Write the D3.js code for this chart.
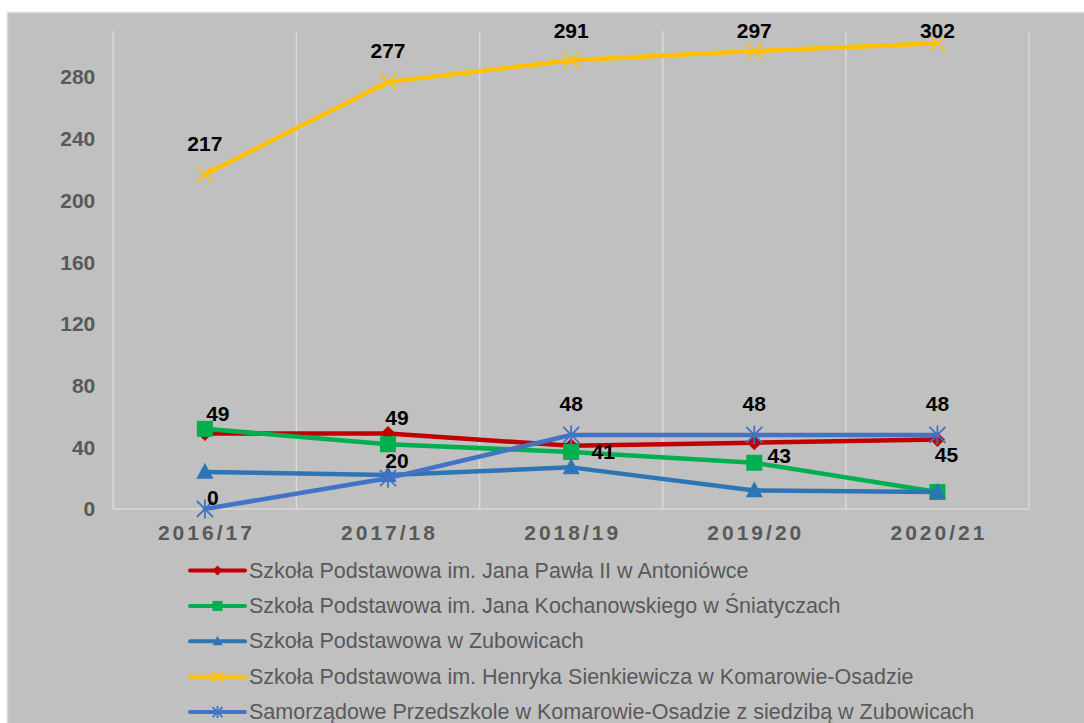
<!DOCTYPE html>
<html>
<head>
<meta charset="utf-8">
<script src="https://cdn.jsdelivr.net/npm/d3@7"></script>
<style>
  html, body { margin: 0; padding: 0; background: #ffffff; }
  svg { display: block; font-family: Arial, "Liberation Sans", sans-serif; }
</style>
</head>
<body>
<svg id="chart" width="1084" height="723"></svg>
<script>
// ---- DATA ----
const categories = ["2016/17", "2017/18", "2018/19", "2019/20", "2020/21"];
const yTicks = [0, 40, 80, 120, 160, 200, 240, 280];
const seriesNames = [
  "Szkoła Podstawowa im. Jana Pawła II w Antoniówce",
  "Szkoła Podstawowa im. Jana Kochanowskiego w Śniatyczach",
  "Szkoła Podstawowa w Zubowicach",
  "Szkoła Podstawowa im. Henryka Sienkiewicza w Komarowie-Osadzie",
  "Samorządowe Przedszkole w Komarowie-Osadzie z siedzibą w Zubowicach"
];
const antoniowka = [49, 49, 41, 43, 45];
const sniatycze = [52, 42, 37, 30, 11];
const zubowice = [24, 22, 27, 12, 11];
const komarow = [217, 277, 291, 297, 302];
const przedszkole = [0, 20, 48, 48, 48];
const labelled = [true, false, false, true, true];

// ---- STYLE / LAYOUT ----
const colors = ["#c00000", "#00b050", "#2e75b6", "#ffc000", "#4472c4"];
const markers = ["diamond", "square", "triangle", "x", "asterisk"];
const seriesValues = [antoniowka, sniatycze, zubowice, komarow, przedszkole];
// data-label offsets (dx, dy) per series per point
const labelOffsets = [
  [[13, -20], [9, -16], [32, 6], [25, 13], [9, 15]],
  null, null,
  [[0, -31], [0, -31], [0, -31], [0, -31], [0, -31]],
  [[8, -12], [9, -18], [0, -31], [0, -31], [0, -31]]
];

const svg = d3.select("#chart");
// chart area background
svg.append("rect").attr("x", 7).attr("y", 12).attr("width", 1084 - 7).attr("height", 723 - 12)
  .attr("fill", "#c0c0c0");
svg.append("line").attr("x1", 7.5).attr("x2", 7.5).attr("y1", 12).attr("y2", 723).attr("stroke", "#d9d9d9").attr("stroke-width", 1.5);
svg.append("line").attr("x1", 7).attr("x2", 1084).attr("y1", 12.5).attr("y2", 12.5).attr("stroke", "#d9d9d9").attr("stroke-width", 1.5);

const plot = { left: 113.3, right: 1029, top: 31, bottom: 509 };
const x = d3.scaleBand().domain(categories).range([plot.left, plot.right]);
const y = d3.scaleLinear().domain([0, 310]).range([plot.bottom, plot.top]);
const cx = c => x(c) + x.bandwidth() / 2;

// vertical gridlines at category boundaries
const bounds = categories.map(c => x(c)).concat([plot.right]);
svg.append("g").selectAll("line").data(bounds).join("line")
  .attr("x1", d => d).attr("x2", d => d)
  .attr("y1", plot.top).attr("y2", plot.bottom)
  .attr("stroke", "#d9d9d9").attr("stroke-width", 1.5);

// x axis line
svg.append("line").attr("x1", plot.left).attr("x2", plot.right)
  .attr("y1", plot.bottom).attr("y2", plot.bottom)
  .attr("stroke", "#d9d9d9").attr("stroke-width", 1.5);

// y axis labels
const yAxis = d3.axisLeft(y).tickValues(yTicks).tickSize(0).tickPadding(18);
const yg = svg.append("g").attr("transform", `translate(${plot.left},0)`).call(yAxis);
yg.select(".domain").remove();
yg.selectAll("text").attr("fill", "#595959").attr("font-size", 21).attr("font-weight", "bold")
  .attr("font-family", "Arial, 'Liberation Sans', sans-serif");

// x axis labels
const xAxis = d3.axisBottom(x).tickSize(0).tickPadding(16);
const xg = svg.append("g").attr("transform", `translate(0,${plot.bottom})`).call(xAxis);
xg.select(".domain").remove();
xg.selectAll("text").attr("fill", "#595959").attr("font-size", 21).attr("font-weight", "bold")
  .attr("letter-spacing", "3px").attr("dx", "1.5px")
  .attr("font-family", "Arial, 'Liberation Sans', sans-serif");

function drawMarker(g, type, px, py, color, s) {
  if (type === "diamond") {
    g.append("path").attr("d", `M${px},${py - s}L${px + s},${py}L${px},${py + s}L${px - s},${py}Z`).attr("fill", color);
  } else if (type === "square") {
    g.append("rect").attr("x", px - s).attr("y", py - s).attr("width", 2 * s).attr("height", 2 * s).attr("fill", color);
  } else if (type === "triangle") {
    g.append("path").attr("d", `M${px},${py - s * 1.1}L${px + s},${py + s * 0.8}L${px - s},${py + s * 0.8}Z`).attr("fill", color);
  } else if (type === "x") {
    g.append("path").attr("d", `M${px - s},${py - s}L${px + s},${py + s}M${px - s},${py + s}L${px + s},${py - s}`)
      .attr("stroke", color).attr("stroke-width", 1.8).attr("fill", "none");
  } else if (type === "asterisk") {
    g.append("path").attr("d", `M${px - s},${py - s}L${px + s},${py + s}M${px - s},${py + s}L${px + s},${py - s}M${px},${py - s * 1.2}L${px},${py + s * 1.2}`)
      .attr("stroke", color).attr("stroke-width", 1.8).attr("fill", "none");
  }
}

const line = d3.line().x((d, i) => cx(categories[i])).y(d => y(d));
const markerSizes = [7.5, 8, 8.5, 8, 8];

seriesValues.forEach((vals, si) => {
  const g = svg.append("g");
  g.append("path").datum(vals).attr("d", line).attr("fill", "none")
    .attr("stroke", colors[si]).attr("stroke-width", 4.5).attr("stroke-linejoin", "round").attr("stroke-linecap", "round");
  vals.forEach((v, i) => drawMarker(g, markers[si], cx(categories[i]), y(v), colors[si], markerSizes[si]));
});

// data labels
seriesValues.forEach((vals, si) => {
  if (!labelled[si]) return;
  svg.append("g").selectAll("text").data(vals).join("text")
    .attr("x", (d, i) => cx(categories[i]) + labelOffsets[si][i][0])
    .attr("y", (d, i) => Math.max(y(d) + labelOffsets[si][i][1], 30))
    .attr("text-anchor", "middle").attr("dominant-baseline", "central")
    .attr("font-size", 21).attr("font-weight", "bold").attr("fill", "#000000")
    .text(d => d);
});

// legend
const legendX = 190, legendY0 = 570.5, legendStep = 35.4;
seriesNames.forEach((name, si) => {
  const ly = legendY0 + si * legendStep;
  const g = svg.append("g");
  g.append("line").attr("x1", legendX).attr("x2", legendX + 55).attr("y1", ly).attr("y2", ly)
    .attr("stroke", colors[si]).attr("stroke-width", 4).attr("stroke-linecap", "round");
  drawMarker(g, markers[si], legendX + 27.5, ly, colors[si], 5);
  g.append("text").attr("x", legendX + 59).attr("y", ly).attr("dominant-baseline", "central")
    .attr("font-size", 21.5).attr("fill", "#595959").text(name);
});
</script>
</body>
</html>
